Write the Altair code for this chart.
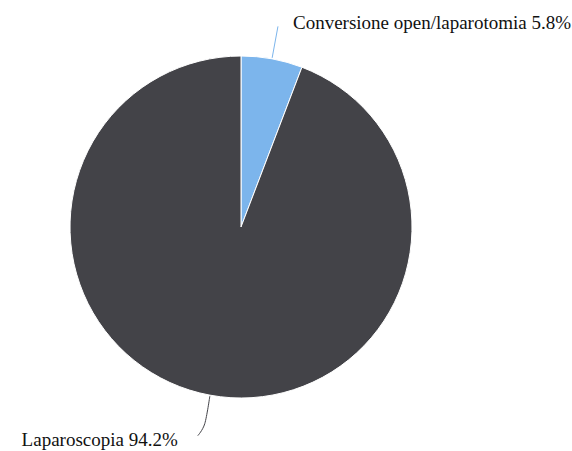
import altair as alt
import numpy as np
import pandas as pd

# ---- data ----
categories = ["Conversione open/laparotomia", "Laparoscopia"]
values = [5.8, 94.2]
labels = ["Conversione open/laparotomia 5.8%", "Laparoscopia 94.2%"]
colors = ["#7cb5ec", "#434348"]

# ---- layout (pixels) ----
W, H = 572, 451
CX, CY, R = 241, 227, 171
R_IN, R_OUT = 172, 204

vals = np.array(values, dtype=float)
frac = vals / vals.sum()
end = np.cumsum(frac)
start = end - frac
mid = (start + end) / 2 * 2 * np.pi  # angle clockwise from top

pie_df = pd.DataFrame({"cat": categories, "value": values, "idx": range(len(values))})

line_rows, label_rows = [], []
for i, (c, a) in enumerate(zip(categories, mid)):
    s, co = np.sin(a), np.cos(a)
    p_in = (CX + R_IN * s, CY - R_IN * co)
    r_out = R_OUT if s >= 0 else 200
    p_out = (CX + r_out * s, CY - r_out * co)
    pts = [p_in, p_out]
    if s >= 0:
        lab = (p_out[0] + 15, p_out[1] + 3, "left")
    else:
        hook = (p_out[0] - 7, p_out[1] + 12)
        pts.append(hook)
        lab = (hook[0] - 20, hook[1] + 10, "right")
    for k, (x, y) in enumerate(pts):
        line_rows.append({"cat": c, "k": k, "x": x, "y": y})
    label_rows.append({"cat": c, "text": labels[i], "x": lab[0], "y": lab[1], "align": lab[2]})

line_df = pd.DataFrame(line_rows)
lab_df = pd.DataFrame(label_rows)

color_scale = alt.Scale(domain=categories, range=colors)

pie = alt.Chart(pie_df).mark_arc(radius=R, stroke="white", strokeWidth=1).encode(
    theta=alt.Theta("value:Q", stack=True),
    color=alt.Color("cat:N", scale=color_scale, legend=None),
    order=alt.Order("idx:Q"),
    x=alt.value(CX),
    y=alt.value(CY),
)

conn = alt.Chart(line_df).mark_line(strokeWidth=1, interpolate="cardinal").encode(
    x=alt.X("x:Q", scale=None),
    y=alt.Y("y:Q", scale=None),
    detail="cat:N",
    order="k:Q",
    color=alt.Color("cat:N", scale=color_scale, legend=None),
)

txt_left = alt.Chart(lab_df[lab_df["align"] == "left"]).mark_text(
    align="left", baseline="alphabetic", font="Liberation Serif", fontSize=19, color="#111111"
).encode(x=alt.X("x:Q", scale=None), y=alt.Y("y:Q", scale=None), text="text:N")

txt_right = alt.Chart(lab_df[lab_df["align"] == "right"]).mark_text(
    align="right", baseline="alphabetic", font="Liberation Serif", fontSize=19, color="#111111"
).encode(x=alt.X("x:Q", scale=None), y=alt.Y("y:Q", scale=None), text="text:N")

chart = alt.layer(pie, conn, txt_left, txt_right).properties(
    width=W, height=H, padding=0, autosize="none", background="white"
).configure_view(stroke=None)

chart.save("out.html", embed_options={"renderer": "svg", "actions": False})
